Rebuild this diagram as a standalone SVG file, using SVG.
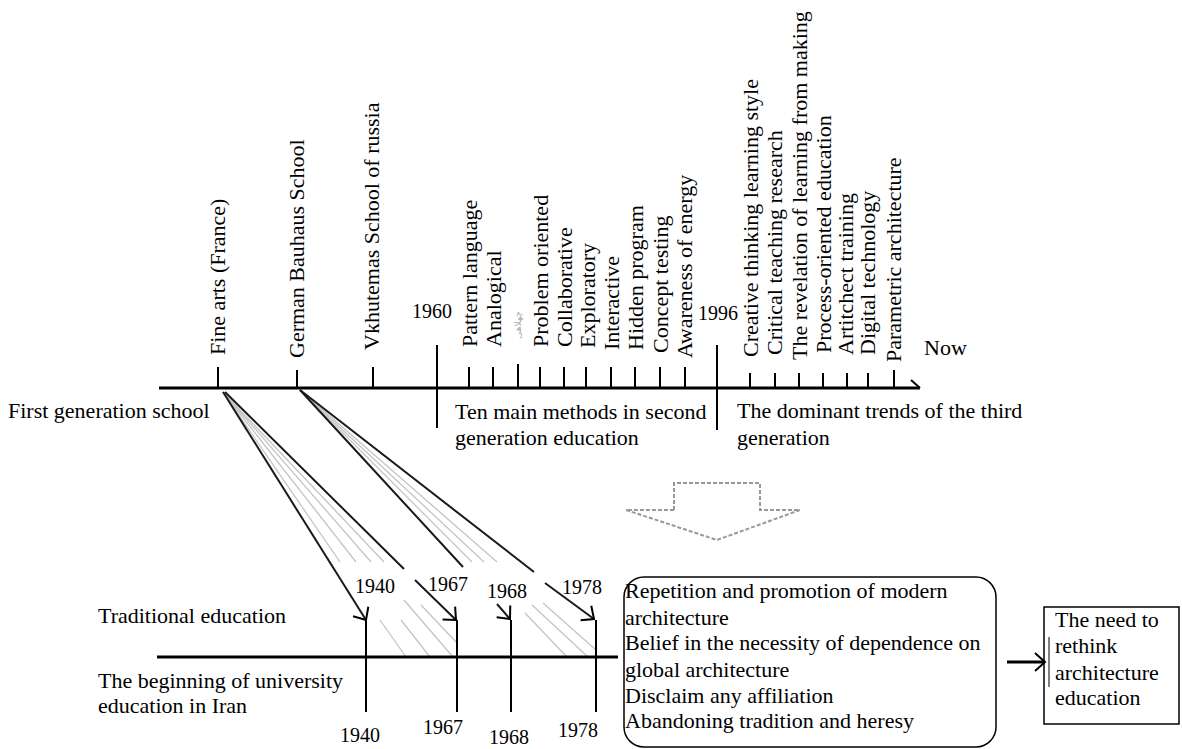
<svg xmlns="http://www.w3.org/2000/svg" width="1182" height="749" viewBox="0 0 1182 749">
<defs>
<style>
text{font-family:"Liberation Serif","Times New Roman",serif;font-size:22px;fill:#000}
.yr{font-size:20px}
.fa{font-family:"DejaVu Sans",sans-serif;font-size:9px;fill:#aaa}
.ax{stroke:#000;stroke-width:3;fill:none}
.tk{stroke:#000;stroke-width:2;fill:none}
.bk{stroke:#1a1a1a;stroke-width:2;fill:none}
.gr{stroke:#c4c4c4;stroke-width:1.3;fill:none}
.box{fill:none;stroke:#000;stroke-width:1.5}
</style>
<marker id="ah" markerUnits="userSpaceOnUse" markerWidth="30" markerHeight="30" refX="0" refY="0" viewBox="-15 -15 30 30" orient="auto" overflow="visible">
<path d="M-10,-9 L0,0 L-10,9" fill="none" stroke="#000" stroke-width="2"/>
</marker>
</defs>
<rect width="1182" height="749" fill="#fff"/>

<g id="connectors">
<!-- gray fan lines: Fine arts -->
<path class="gr" d="M223,392 L340,562 M380,620 L406,657"/>
<path class="gr" d="M223,392 L356,562 M401,620 L430,657"/>
<path class="gr" d="M223,392 L371,562 M404,600 L453,657"/>
<path class="gr" d="M223,392 L384,562 M421,605 L457,643"/>
<!-- gray fan lines: Bauhaus -->
<path class="gr" d="M300,390 L472,562 M525,613 L567,657"/>
<path class="gr" d="M300,390 L484,562 M532,605 L588,657"/>
<path class="gr" d="M300,390 L497,562 M543,603 L596,650"/>
<!-- black lines -->
<path class="bk" d="M223,392 L366,620" marker-end="url(#ah)"/>
<path class="bk" d="M225,392 L404,569 M415,580 L456,620" marker-end="url(#ah)"/>
<path class="bk" d="M300,390 L463,567 M497,604 L510,619" marker-end="url(#ah)"/>
<path class="bk" d="M300,390 L534,572 M545,583 L594,619" marker-end="url(#ah)"/>
<!-- arrow to final box -->
<path d="M1007,662 L1045,662" stroke="#000" stroke-width="3" fill="none" marker-end="url(#ah)"/>
</g>

<g id="timeline-top">
<line x1="159" y1="388" x2="920" y2="388" class="ax"/>
<path d="M911,380 L920,388" class="tk" stroke-width="2.5"/>
</g>

<g id="first-generation">
<text x="8" y="418">First generation school</text>
</g>
<g id="fine-arts">
<line x1="218" y1="367" x2="218" y2="389" class="tk"/>
<text transform="translate(225,355) rotate(-90)">Fine arts (France)</text>
</g>
<g id="bauhaus">
<line x1="297" y1="370" x2="297" y2="389" class="tk"/>
<text transform="translate(304,358) rotate(-90)">German Bauhaus School</text>
</g>
<g id="vkhutemas">
<line x1="373" y1="367" x2="373" y2="389" class="tk"/>
<text transform="translate(379,350) rotate(-90)">Vkhutemas School of russia</text>
</g>

<g id="y1960">
<line x1="437" y1="345" x2="437" y2="428" class="tk" stroke-width="2.5"/>
<text class="yr" x="412" y="318">1960</text>
</g>
<g id="second-generation">
<text x="455" y="419">Ten main methods in second</text>
<text x="455" y="445">generation education</text>
</g>
<g id="m-pattern"><line x1="469" y1="367" x2="469" y2="388" class="tk" stroke-width="1.5"/><text transform="translate(477,347) rotate(-90)">Pattern language</text></g>
<g id="m-analogical"><line x1="493" y1="367" x2="493" y2="388" class="tk" stroke-width="1.5"/><text transform="translate(501,347) rotate(-90)">Analogical</text></g>
<g id="m-persian"><line x1="518" y1="364" x2="518" y2="388" class="tk" stroke-width="1.5"/><text class="fa" text-anchor="middle" transform="translate(521,325) rotate(-90)">چهلاهی</text></g>
<g id="m-problem"><line x1="540" y1="367" x2="540" y2="388" class="tk" stroke-width="1.5"/><text transform="translate(548,347) rotate(-90)">Problem oriented</text></g>
<g id="m-collab"><line x1="564" y1="367" x2="564" y2="388" class="tk" stroke-width="1.5"/><text transform="translate(572,347) rotate(-90)">Collaborative</text></g>
<g id="m-explor"><line x1="586" y1="367" x2="586" y2="388" class="tk" stroke-width="1.5"/><text transform="translate(595,348) rotate(-90)">Exploratory</text></g>
<g id="m-inter"><line x1="611" y1="367" x2="611" y2="388" class="tk" stroke-width="1.5"/><text transform="translate(619,350) rotate(-90)">Interactive</text></g>
<g id="m-hidden"><line x1="635" y1="367" x2="635" y2="388" class="tk" stroke-width="1.5"/><text transform="translate(643,350) rotate(-90)">Hidden program</text></g>
<g id="m-concept"><line x1="660" y1="367" x2="660" y2="388" class="tk" stroke-width="1.5"/><text transform="translate(668,353) rotate(-90)">Concept testing</text></g>
<g id="m-energy"><line x1="685" y1="367" x2="685" y2="388" class="tk" stroke-width="1.5"/><text transform="translate(692,358) rotate(-90)">Awareness of energy</text></g>

<g id="y1996">
<line x1="717" y1="345" x2="717" y2="430" class="tk" stroke-width="2.5"/>
<text class="yr" x="698" y="320">1996</text>
</g>
<g id="third-generation">
<text x="737" y="418">The dominant trends of the third</text>
<text x="737" y="445">generation</text>
</g>
<g id="t-creative"><line x1="750" y1="373" x2="750" y2="388" class="tk" stroke-width="1.5"/><text transform="translate(758,357) rotate(-90)">Creative thinking learning style</text></g>
<g id="t-critical"><line x1="775" y1="373" x2="775" y2="388" class="tk" stroke-width="1.5"/><text transform="translate(782,355) rotate(-90)">Critical teaching research</text></g>
<g id="t-revelation"><line x1="799" y1="373" x2="799" y2="388" class="tk" stroke-width="1.5"/><text transform="translate(807,360) rotate(-90)">The revelation of learning from making</text></g>
<g id="t-process"><line x1="823" y1="373" x2="823" y2="388" class="tk" stroke-width="1.5"/><text transform="translate(831,353) rotate(-90)">Process-oriented education</text></g>
<g id="t-architect"><line x1="847" y1="373" x2="847" y2="388" class="tk" stroke-width="1.5"/><text transform="translate(853,355) rotate(-90)">Artitchect training</text></g>
<g id="t-digital"><line x1="868" y1="373" x2="868" y2="388" class="tk" stroke-width="1.5"/><text transform="translate(875,355) rotate(-90)">Digital technology</text></g>
<g id="t-parametric"><line x1="894" y1="370" x2="894" y2="388" class="tk" stroke-width="1.5"/><text transform="translate(901,362) rotate(-90)">Parametric architecture</text></g>
<g id="now"><text x="924" y="355">Now</text></g>

<g id="down-arrow">
<path d="M674,510 L674,483 L760,483 L760,510 L800,510 L717,540 L626,510 Z" fill="none" stroke="#999" stroke-width="2" stroke-dasharray="4,2"/>
</g>

<g id="timeline-bottom">
<line x1="157" y1="657" x2="618" y2="657" class="ax"/>
<text x="98" y="623">Traditional education</text>
<text x="98" y="688">The beginning of university</text>
<text x="98" y="713">education in Iran</text>
</g>
<g id="b1940">
<line x1="366" y1="620" x2="366" y2="712" class="tk" stroke-width="2.5"/>
<text class="yr" x="355" y="593">1940</text>
<text class="yr" x="340" y="742">1940</text>
</g>
<g id="b1967">
<line x1="457" y1="620" x2="457" y2="712" class="tk" stroke-width="2.5"/>
<text class="yr" x="428" y="591">1967</text>
<text class="yr" x="423" y="734">1967</text>
</g>
<g id="b1968">
<line x1="511" y1="620" x2="511" y2="712" class="tk" stroke-width="2.5"/>
<text class="yr" x="487" y="598">1968</text>
<text class="yr" x="489" y="744">1968</text>
</g>
<g id="b1978">
<line x1="596" y1="620" x2="596" y2="712" class="tk" stroke-width="2.5"/>
<text class="yr" x="562" y="594">1978</text>
<text class="yr" x="558" y="737">1978</text>
</g>

<g id="consequences">
<rect class="box" x="624" y="577" width="372" height="170" rx="20" ry="20"/>
<text x="625" y="598">Repetition and promotion of modern</text>
<text x="625" y="625">architecture</text>
<text x="625" y="650">Belief in the necessity of dependence on</text>
<text x="625" y="677">global architecture</text>
<text x="625" y="703">Disclaim any affiliation</text>
<text x="625" y="728">Abandoning tradition and heresy</text>
</g>

<g id="rethink">
<rect class="box" x="1044" y="607" width="135" height="117"/>
<line x1="1049" y1="637" x2="1049" y2="687" stroke="#000" stroke-width="1"/>
<text x="1055" y="627">The need to</text>
<text x="1055" y="653">rethink</text>
<text x="1055" y="680">architecture</text>
<text x="1055" y="705">education</text>
</g>
</svg>
